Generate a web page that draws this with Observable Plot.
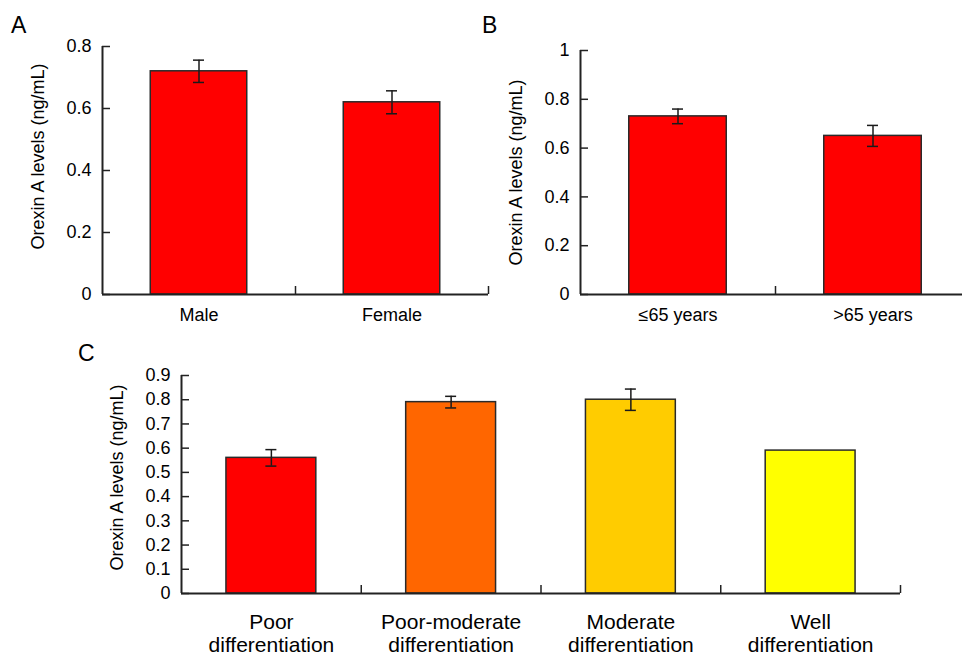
<!DOCTYPE html>
<html>
<head>
<meta charset="utf-8">
<script src="https://cdn.jsdelivr.net/npm/d3@7"></script>
<script src="https://cdn.jsdelivr.net/npm/@observablehq/plot@0.6"></script>
<style>
  html, body { margin: 0; padding: 0; background: #fff; overflow: hidden; }
  #root { position: relative; width: 962px; height: 655px; overflow: hidden; font-family: "Liberation Sans", Arial, sans-serif; }
  .panel { position: absolute; }
  .panel svg { max-width: none !important; }
  .letter { position: absolute; font-size: 23px; line-height: 23px; color: #000; }
</style>
</head>
<body>
<div id="root">
  <div class="panel" id="panelA" style="left:0px;top:0px"></div>
  <div class="panel" id="panelB" style="left:480px;top:0px"></div>
  <div class="panel" id="panelC" style="left:70px;top:340px"></div>
  <div class="letter" style="left:11px;top:14px">A</div>
  <div class="letter" style="left:482px;top:14px">B</div>
  <div class="letter" style="left:78px;top:342px">C</div>
</div>
<script>
// ---- data ----
const yLabel = "Orexin A levels (ng/mL)";

const sexCategories = ["Male", "Female"];
const sexMeans = [0.72, 0.62];
const sexErrors = [0.036, 0.037];
const sexTicks = [0, 0.2, 0.4, 0.6, 0.8];
const sexTickLabels = ["0", "0.2", "0.4", "0.6", "0.8"];

const ageCategories = ["≤65 years", ">65 years"];
const ageMeans = [0.73, 0.65];
const ageErrors = [0.03, 0.043];
const ageTicks = [0, 0.2, 0.4, 0.6, 0.8, 1];
const ageTickLabels = ["0", "0.2", "0.4", "0.6", "0.8", "1"];

const diffCategories = ["Poor\ndifferentiation", "Poor-moderate\ndifferentiation", "Moderate\ndifferentiation", "Well\ndifferentiation"];
const diffMeans = [0.56, 0.79, 0.80, 0.59];
const diffErrors = [0.034, 0.024, 0.044, 0];
const diffTicks = [0, 0.1, 0.2, 0.3, 0.4, 0.5, 0.6, 0.7, 0.8, 0.9];
const diffTickLabels = ["0", "0.1", "0.2", "0.3", "0.4", "0.5", "0.6", "0.7", "0.8", "0.9"];

const redColors = ["#ff0000", "#ff0000"];
const diffColors = ["#ff0000", "#ff6600", "#ffcc00", "#ffff00"];

// ---- drawing ----
function panel({categories, means, errors, ticks, tickLabels, colors, width, height, margins, yDomain, labelDy, catFont, catPad, catLine}) {
  const rows = categories.map((c, i) => ({cat: c, i, mean: means[i], err: errors[i]}));
  const withErr = rows.filter(d => d.err > 0);
  const n = categories.length;
  const boundaries = d3.range(1, n + 1);
  return Plot.plot({
    width, height,
    marginLeft: margins[0], marginRight: margins[1], marginTop: margins[2], marginBottom: margins[3],
    style: {background: "transparent", overflow: "visible", maxWidth: "none", fontFamily: "'Liberation Sans', Arial, sans-serif", fontSize: "18px", color: "#000"},
    x: {type: "linear", domain: [0, n]},
    y: {domain: yDomain},
    color: {domain: categories, range: colors},
    marks: [
      Plot.rectY(rows, {x1: d => d.i + 0.25, x2: d => d.i + 0.75, y1: 0, y2: "mean", fill: "cat", stroke: "#2a2a2a", strokeWidth: 1.5}),
      Plot.ruleX(withErr, {x: d => d.i + 0.5, y1: d => d.mean - d.err, y2: d => d.mean + d.err, stroke: "#1a1a1a", strokeWidth: 1.5}),
      Plot.ruleY(withErr, {y: d => d.mean + d.err, x1: d => d.i + 0.5, x2: d => d.i + 0.5, insetLeft: -5.5, insetRight: -5.5, stroke: "#1a1a1a", strokeWidth: 1.5}),
      Plot.ruleY(withErr, {y: d => d.mean - d.err, x1: d => d.i + 0.5, x2: d => d.i + 0.5, insetLeft: -5.5, insetRight: -5.5, stroke: "#1a1a1a", strokeWidth: 1.5}),
      // axis lines
      Plot.ruleX([0], {stroke: "#222", strokeWidth: 2}),
      Plot.ruleY([0], {stroke: "#222", strokeWidth: 2}),
      // inward y ticks
      Plot.ruleY(ticks, {y: d => d, x1: 0, x2: 0, insetRight: -8, stroke: "#222", strokeWidth: 1.5}),
      // x boundary ticks (upward)
      Plot.ruleX(boundaries, {x: d => d, y1: 0, y2: 0, insetTop: -8, stroke: "#222", strokeWidth: 1.5}),
      Plot.axisY({ticks, tickFormat: v => tickLabels[ticks.indexOf(v)], tickSize: 0, tickPadding: 11, label: null, fontSize: 18}),
      Plot.axisX({ticks: categories.map((c, i) => i + 0.5), tickFormat: v => categories[Math.floor(v)], tickSize: 0, tickPadding: catPad, label: null, fontSize: catFont, lineHeight: catLine}),
      Plot.text([yLabel], {text: d => d, frameAnchor: "left", rotate: -90, dx: -64, dy: labelDy, fontSize: 18, textAnchor: "middle", lineAnchor: "middle"})
    ]
  });
}

document.getElementById("panelA").append(panel({
  categories: sexCategories, means: sexMeans, errors: sexErrors, ticks: sexTicks, tickLabels: sexTickLabels, colors: redColors,
  width: 492, height: 340, margins: [102, 4, 46, 46], yDomain: [0, 0.8], labelDy: -14,
  catFont: 18, catPad: 11, catLine: 1.2
}));

document.getElementById("panelB").append(panel({
  categories: ageCategories, means: ageMeans, errors: ageErrors, ticks: ageTicks, tickLabels: ageTickLabels, colors: redColors,
  width: 490, height: 340, margins: [100, 0, 50, 46], yDomain: [0, 1], labelDy: 0,
  catFont: 18, catPad: 11, catLine: 1.2
}));

document.getElementById("panelC").append(panel({
  categories: diffCategories, means: diffMeans, errors: diffErrors, ticks: diffTicks, tickLabels: diffTickLabels, colors: diffColors,
  width: 840, height: 315, margins: [111, 10, 35, 62], yDomain: [0, 0.9], labelDy: -7,
  catFont: 21, catPad: 18, catLine: 1.14
}));
</script>
</body>
</html>
